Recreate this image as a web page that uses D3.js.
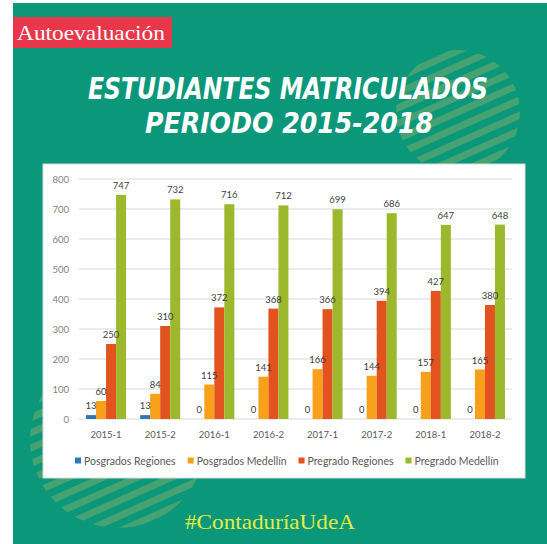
<!DOCTYPE html>
<html>
<head>
<meta charset="utf-8">
<script src="https://cdn.jsdelivr.net/npm/d3@7"></script>
<style>
  html, body { margin: 0; padding: 0; background: #ffffff; }
  svg { display: block; }
</style>
</head>
<body>
<svg id="chart" width="547" height="544"></svg>
<script>
// ---- data ----
const categories = ["2015-1", "2015-2", "2016-1", "2016-2", "2017-1", "2017-2", "2018-1", "2018-2"];
const seriesNames = ["Posgrados Regiones", "Posgrados Medellín", "Pregrado Regiones", "Pregrado Medellín"];
const posgradosRegiones = [13, 13, 0, 0, 0, 0, 0, 0];
const posgradosMedellin = [60, 84, 115, 141, 166, 144, 157, 165];
const pregradoRegiones = [250, 310, 372, 368, 366, 394, 427, 380];
const pregradoMedellin = [747, 732, 716, 712, 699, 686, 647, 648];
const yTicks = [0, 100, 200, 300, 400, 500, 600, 700, 800];
const seriesColors = ["#2f78b7", "#f9a01b", "#e2531f", "#9db82c"];
const seriesValues = [posgradosRegiones, posgradosMedellin, pregradoRegiones, pregradoMedellin];

const svg = d3.select("#chart");

// ---- background ----
svg.append("rect").attr("x", 13).attr("y", 3).attr("width", 534).attr("height", 541).attr("fill", "#0a977a");

// striped circles
const defs = svg.append("defs");
function stripedCircle(id, cx, cy, r) {
  const cp = defs.append("clipPath").attr("id", id);
  cp.append("circle").attr("cx", cx).attr("cy", cy).attr("r", r);
  const g = svg.append("g").attr("clip-path", `url(#${id})`);
  const n = 14, gap = 14;
  for (let i = -n; i <= n; i++) {
    g.append("rect")
      .attr("x", cx - r * 1.6).attr("y", cy + i * gap - 3.5)
      .attr("width", r * 3.2).attr("height", 7)
      .attr("fill", "#7fae6a").attr("opacity", 0.5)
      .attr("transform", `rotate(-24 ${cx} ${cy})`);
  }
}
stripedCircle("c1", 458, 112, 62);
stripedCircle("c2", 118, 440, 88);

// red label
svg.append("rect").attr("x", 13).attr("y", 17).attr("width", 159).attr("height", 31).attr("fill", "#e8374a");
svg.append("text").attr("x", 17).attr("y", 40).text("Autoevaluación")
  .attr("textLength", 148).attr("lengthAdjust", "spacingAndGlyphs")
  .attr("font-family", "Liberation Serif, DejaVu Serif, serif").attr("font-size", 22).attr("fill", "#ffffff");

// title
svg.append("text").attr("x", 288).attr("y", 99).attr("text-anchor", "middle")
  .attr("textLength", 400).attr("lengthAdjust", "spacingAndGlyphs")
  .attr("font-family", "DejaVu Sans, sans-serif").attr("font-weight", "bold").attr("font-style", "italic")
  .attr("font-size", 30).attr("fill", "#ffffff").text("ESTUDIANTES MATRICULADOS");
svg.append("text").attr("x", 289).attr("y", 133).attr("text-anchor", "middle")
  .attr("textLength", 288).attr("lengthAdjust", "spacingAndGlyphs")
  .attr("font-family", "DejaVu Sans, sans-serif").attr("font-weight", "bold").attr("font-style", "italic")
  .attr("font-size", 29).attr("fill", "#ffffff").text("PERIODO 2015-2018");

// panel
svg.append("rect").attr("x", 43).attr("y", 164).attr("width", 482).attr("height", 314)
  .attr("fill", "#ffffff").attr("stroke", "#dcdcdc").attr("stroke-width", 1);

// ---- chart ----
const x0 = d3.scaleBand().domain(categories).range([79, 512]).paddingInner(0.26).paddingOuter(0.13);
const x1 = d3.scaleBand().domain(seriesNames).range([0, x0.bandwidth()]);
const y = d3.scaleLinear().domain([0, 800]).range([419, 179]);

// gridlines
svg.append("g").selectAll("line").data(yTicks).join("line")
  .attr("x1", 79).attr("x2", 512)
  .attr("y1", d => y(d)).attr("y2", d => y(d))
  .attr("stroke", "#d9d9d9").attr("stroke-width", 1);

// y axis labels
const yAxis = d3.axisLeft(y).tickValues(yTicks).tickSize(0).tickPadding(0);
const gy = svg.append("g").attr("transform", "translate(69,0)").call(yAxis);
gy.select(".domain").remove();
gy.selectAll("text").attr("font-family", "Lato, sans-serif").attr("font-size", 9.5).attr("fill", "#7f7f7f");

// x axis labels
const xAxis = d3.axisBottom(x0).tickSize(0).tickPadding(0);
const gx = svg.append("g").attr("transform", "translate(0,431)").call(xAxis);
gx.select(".domain").remove();
gx.selectAll("text").attr("font-family", "Lato, sans-serif").attr("font-size", 9.5).attr("fill", "#595959");

// bars
const rows = [];
categories.forEach((c, i) => seriesNames.forEach((s, j) => rows.push({ c, s, j, v: seriesValues[j][i] })));
svg.append("g").selectAll("rect").data(rows).join("rect")
  .attr("x", d => x0(d.c) + x1(d.s))
  .attr("y", d => y(d.v))
  .attr("width", x1.bandwidth())
  .attr("height", d => y(0) - y(d.v))
  .attr("fill", d => seriesColors[d.j]);

// value labels
svg.append("g").selectAll("text").data(rows).join("text")
  .attr("x", d => x0(d.c) + x1(d.s) + x1.bandwidth() / 2)
  .attr("y", d => y(d.v) - 6)
  .attr("text-anchor", "middle")
  .attr("font-family", "Lato, sans-serif").attr("font-size", 9.5).attr("fill", "#404040")
  .text(d => d.v);

// legend
const lg = svg.append("g").attr("transform", "translate(0,461)");
let lx = 75;
seriesNames.forEach((s, j) => {
  lg.append("rect").attr("x", lx).attr("y", -3.5).attr("width", 6).attr("height", 6).attr("fill", seriesColors[j]);
  const t = lg.append("text").attr("x", lx + 9).attr("y", 3.5)
    .attr("font-family", "Lato, sans-serif").attr("font-size", 10.5).attr("fill", "#595959").text(s);
  lx += 9 + t.node().getComputedTextLength() + 12;
});

// hashtag
svg.append("text").attr("x", 270).attr("y", 529).attr("text-anchor", "middle")
  .attr("textLength", 170).attr("lengthAdjust", "spacingAndGlyphs")
  .attr("font-family", "Liberation Serif, DejaVu Serif, serif").attr("font-size", 21)
  .attr("fill", "#e4ec40").text("#ContaduríaUdeA");
</script>
</body>
</html>
